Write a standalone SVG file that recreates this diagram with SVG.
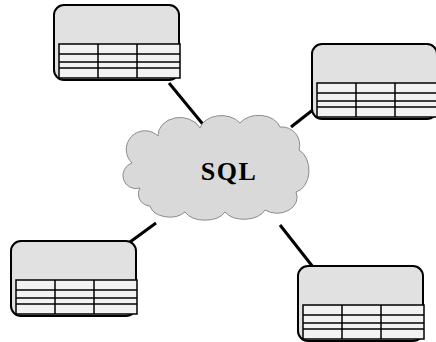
<svg xmlns="http://www.w3.org/2000/svg" xmlns:xlink="http://www.w3.org/1999/xlink" width="436" height="342" viewBox="0 0 436 342">
<style>
.box{fill:#e1e1e1;stroke:#000;stroke-width:2}
.tbl{fill:#f2f2f2;stroke:#000;stroke-width:1.5}
.ln{stroke:#000;stroke-width:1.5}
.conn{stroke:#000;stroke-width:3;fill:none}
.cloud{fill:#d9d9d9;stroke:#8c8c8c;stroke-width:1}
.lbl{font-family:"Liberation Serif",serif;font-weight:bold;font-size:26px;fill:#000;letter-spacing:1.5px}
</style>
<defs>
<g id="db">
<rect class="box" x="0" y="0" width="125" height="75" rx="10"/>
<rect class="tbl" x="5" y="39" width="121" height="34"/>
<line class="ln" x1="5" y1="49" x2="126" y2="49"/>
<line class="ln" x1="5" y1="57" x2="126" y2="57"/>
<line class="ln" x1="5" y1="63" x2="126" y2="63"/>
<line class="ln" x1="44" y1="39" x2="44" y2="73"/>
<line class="ln" x1="83" y1="39" x2="83" y2="73"/>
</g>
</defs>
<g id="connectors">
<line class="conn" x1="169" y1="83" x2="206" y2="128"/>
<line class="conn" x1="291" y1="127" x2="314" y2="109"/>
<line class="conn" x1="280" y1="225" x2="313" y2="267"/>
<line class="conn" x1="156" y1="223" x2="130" y2="242"/>
</g>
<g id="sql">
<path class="cloud" d="M140,188 A13,13 0 0 1 132,163 A18,18 0 0 1 158,136 A22,18 0 0 1 200,128 A22,16 0 0 1 240,123 A22,16 0 0 1 280,127 A18,18 0 0 1 299,150 A16,22 0 0 1 296,192 A20,16 0 0 1 265,210 A22,14 0 0 1 225,212 A22,14 0 0 1 185,212 A20,14 0 0 1 150,206 A12,12 0 0 1 140,188 Z"/>
<text class="lbl" x="229" y="180" text-anchor="middle">SQL</text>
</g>
<g id="db1"><use xlink:href="#db" x="54" y="5"/></g>
<g id="db2"><use xlink:href="#db" x="312" y="44"/></g>
<g id="db3"><use xlink:href="#db" x="11" y="241"/></g>
<g id="db4"><use xlink:href="#db" x="298" y="266"/></g>
</svg>
